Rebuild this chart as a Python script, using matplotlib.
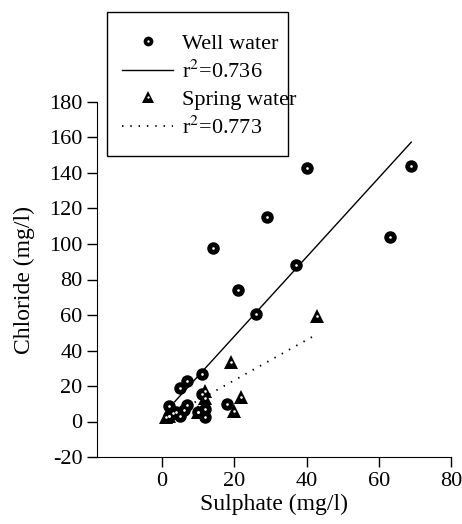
import numpy as np
import matplotlib.pyplot as plt
from matplotlib.patches import Rectangle
from matplotlib.lines import Line2D
from matplotlib.legend_handler import HandlerTuple

plt.rcParams['font.family'] = ['Liberation Serif', 'DejaVu Serif']
plt.rcParams['mathtext.fontset'] = 'stix'
plt.rcParams['axes.unicode_minus'] = False

# Sulphate vs chloride, well and spring samples (mg/l)
well_x = [69, 40, 29, 63, 37, 14, 21, 26, 11, 7, 5, 11, 18, 2, 4, 6, 7, 2, 10, 12, 12, 5]
well_y = [144, 143, 115, 104, 88, 98, 74, 60.5, 26.5, 23, 19, 15.5, 10, 8.5, 5.5, 6.5, 9.5, 3, 5.5, 7, 2.5, 3]
spring_x = [1, 2, 3, 10, 12, 12, 19, 20, 22, 43]
spring_y = [2.5, 3, 5, 5.5, 13, 17, 33.5, 6, 14, 59.5]

# linear fits: slope, intercept, x-range
well_fit = (2.233, 3.3, 3.5, 69)
spring_fit = (1.135, 0.5, 1, 43)

fig = plt.figure(figsize=(4.62, 5.24), dpi=100)
ax = fig.add_axes([97 / 462, 67 / 524, 354 / 462, 355 / 524])

# black marker with a small white dot in the middle
ax.plot(well_x, well_y, 'o', ms=9, mfc='black', mew=0, ls='none', zorder=3)
ax.plot(well_x, well_y, 'o', ms=1.9, mfc='white', mew=0, ls='none', zorder=4)
ax.plot(spring_x, spring_y, '^', ms=9.5, mfc='black', mew=0, ls='none', zorder=3)
ax.plot(spring_x, spring_y, 'o', ms=1.9, mfc='white', mew=0, ls='none', zorder=4)

xs = np.array(well_fit[2:])
ax.plot(xs, well_fit[0] * xs + well_fit[1], color='black', lw=1)
xs = np.array(spring_fit[2:])
ax.plot(xs, spring_fit[0] * xs + spring_fit[1], color='black', lw=1.3,
        dashes=(0.8, 3.8))

ax.set_xlim(-18, 80)
ax.set_ylim(-20, 180)
ax.set_xticks([0, 20, 40, 60, 80])
ax.set_yticks(range(-20, 181, 20))
ax.spines['top'].set_visible(False)
ax.spines['right'].set_visible(False)
ax.tick_params(direction='out', length=7.5, width=1, labelsize=16, pad=3)
ax.set_xlabel('Sulphate (mg/l)', fontsize=17, labelpad=2)
ax.set_ylabel('Chloride (mg/l)', fontsize=17, labelpad=10)

dot = Line2D([], [], marker='o', ms=1.7, mfc='white', mew=0, ls='none')
handles = [
    (Line2D([], [], marker='o', ms=7, mfc='black', mew=0, ls='none'), dot),
    Line2D([], [], color='black', lw=1),
    (Line2D([], [], marker='^', ms=8, mfc='black', mew=0, ls='none'), dot),
    Line2D([], [], color='black', lw=1.3, dashes=(0.8, 3.8)),
]
labels = ['Well water', r'r$^{2}$=0.736', 'Spring water', r'r$^{2}$=0.773']

# legend without its own frame; the box is drawn separately
leg = ax.legend(handles, labels, handler_map={tuple: HandlerTuple(ndivide=1)},
                loc='upper left', bbox_to_anchor=(122 / 462, 1 - 33 / 524),
                bbox_transform=fig.transFigure, fontsize=16, frameon=False,
                handlelength=2.3, handletextpad=0.4,
                labelspacing=0.3, borderpad=0, borderaxespad=0)
fig.add_artist(Rectangle((107 / 462, 1 - 156 / 524), 181 / 462, 144 / 524,
                         transform=fig.transFigure, fill=False,
                         edgecolor='black', linewidth=1))

fig.savefig('out.png', dpi=100)
